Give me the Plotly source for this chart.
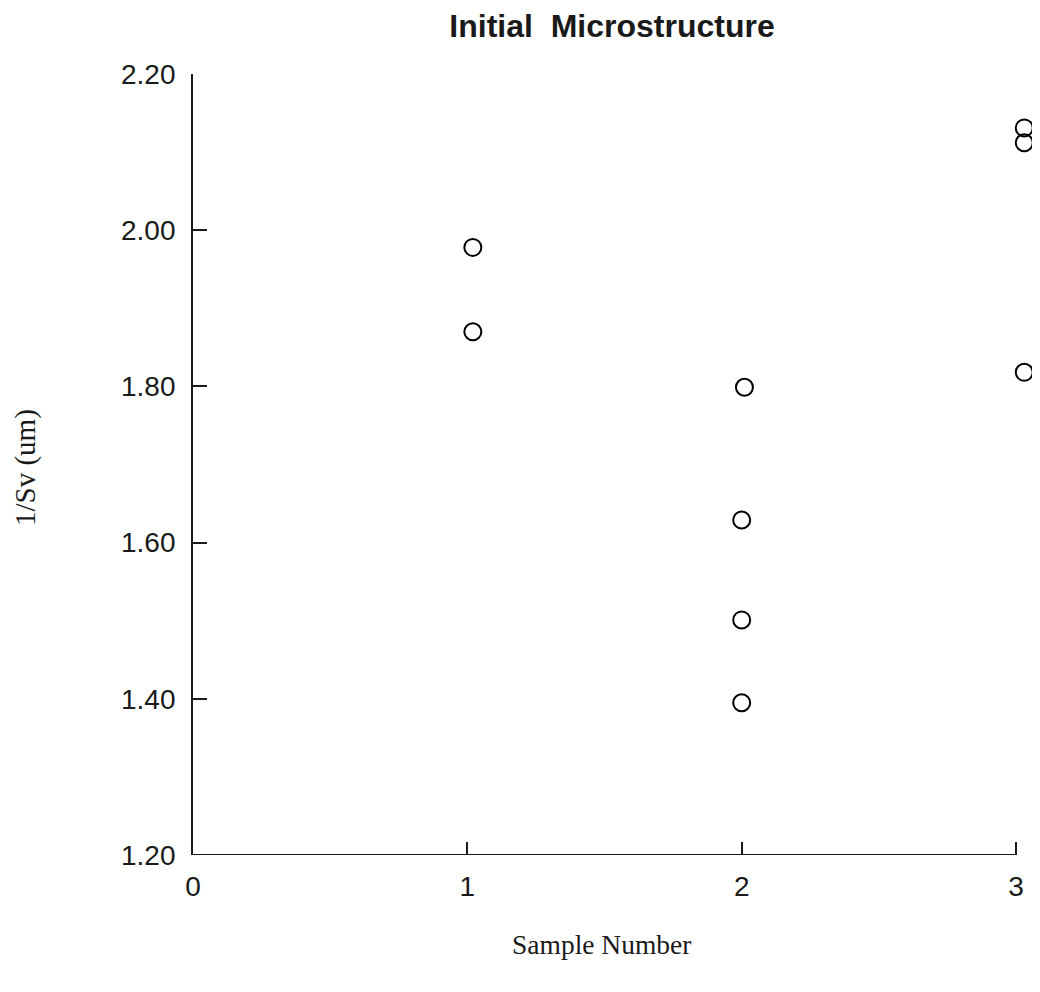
import plotly.graph_objects as go

# Data
sample_x = [1.02, 1.02, 2.01, 2.00, 2.00, 2.00, 3.03, 3.03, 3.03]
inv_sv = [1.978, 1.870, 1.799, 1.629, 1.501, 1.395, 2.131, 2.112, 1.818]

x_ticks = [0, 1, 2, 3]
x_ticklabels = ["0", "1", "2", "3"]
y_ticks = [1.2, 1.4, 1.6, 1.8, 2.0, 2.2]
y_ticklabels = ["1.20", "1.40", "1.60", "1.80", "2.00", "2.20"]
x_axis_span = [0, 3]
x_view = [0, 3.04]
y_view = [1.2, 2.2]

title_text = "Initial  Microstructure"
x_title = "Sample Number"
y_title = "1/Sv (um)"

# page body has an 8px margin on every side; work in screenshot coordinates
OFF = 8
W, H = 1040 - 2 * OFF, 992 - 2 * OFF
PL, PT, PB = 193, 74, 855          # plot area edges in screenshot pixels
UNIT = (1016 - 193) / 3.0           # pixels per sample unit
PR = PL + UNIT * (x_view[1] - x_view[0])
L, T = PL - OFF, PT - OFF
R = max(0, W - (PR - OFF))
B = H - (PB - OFF)
PW, PH = PR - PL, PB - PT


def px_x(sx):
    return (sx - PL) / PW


def px_y(sy):
    return (PB - sy) / PH


ink = "#1a1a1a"
sans = "Liberation Sans, Arial, Helvetica, sans-serif"
serif = "Liberation Serif, Times New Roman, serif"

fig = go.Figure()
fig.add_trace(go.Scatter(
    x=sample_x, y=inv_sv, mode="markers",
    marker=dict(symbol="circle-open", size=17, color="black",
                line=dict(width=2, color="black")),
    cliponaxis=False, showlegend=False,
))

# x axis line spans only 0..3 as in the reference
fig.add_shape(type="line", xref="x", yref="y",
              x0=x_axis_span[0], x1=x_axis_span[1], y0=y_view[0], y1=y_view[0],
              line=dict(color=ink, width=1.8), layer="above")

fig.update_layout(
    width=W, height=H,
    margin=dict(l=L, r=R, t=T, b=B, autoexpand=False),
    paper_bgcolor="white", plot_bgcolor="white",
    title=dict(text="<b>" + title_text + "</b>", x=(612 - OFF) / W, xanchor="center",
               xref="container", y=1 - (26 - OFF) / H, yanchor="middle", yref="container",
               font=dict(family=sans, size=32, color=ink)),
    xaxis=dict(range=x_view, tickvals=x_ticks, ticktext=x_ticklabels,
               showgrid=False, zeroline=False, showline=False,
               ticks="inside", ticklen=13, tickwidth=1.8, tickcolor=ink,
               tickfont=dict(family=sans, size=28, color=ink),
               ticklabelstandoff=12),
    yaxis=dict(range=y_view, tickvals=y_ticks, ticktext=y_ticklabels,
               showgrid=False, zeroline=False, showline=True,
               linecolor=ink, linewidth=1.8, mirror=False,
               ticks="inside", ticklen=14, tickwidth=1.8, tickcolor=ink,
               tickfont=dict(family=sans, size=28, color=ink),
               ticklabelstandoff=10),
    annotations=[
        dict(text=x_title, xref="paper", yref="paper",
             x=px_x(601), y=px_y(945),
             xanchor="center", yanchor="middle", showarrow=False,
             font=dict(family=serif, size=27.5, color=ink)),
        dict(text=y_title, xref="paper", yref="paper",
             x=px_x(25), y=px_y(467),
             xanchor="center", yanchor="middle", showarrow=False, textangle=-90,
             font=dict(family=serif, size=29, color=ink)),
    ],
)

fig.write_html("out.html")
